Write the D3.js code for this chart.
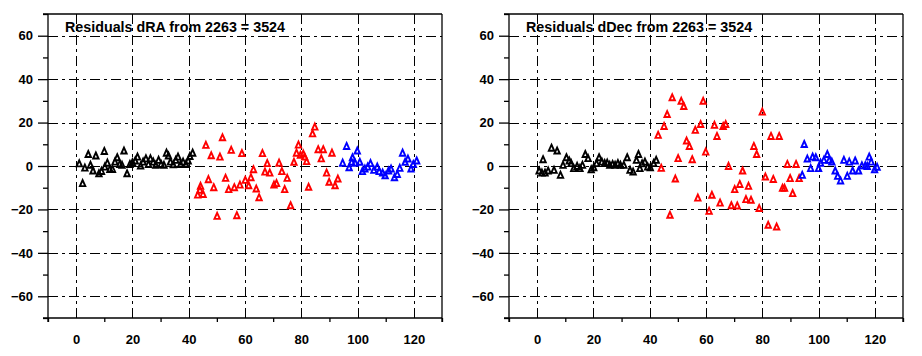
<!DOCTYPE html>
<html><head><meta charset="utf-8">
<script src="https://cdn.jsdelivr.net/npm/d3@7"></script>
<style>body{margin:0;background:#fff}svg{display:block}</style>
</head><body><svg id="c" width="922" height="356"></svg>
<script>
// ---- data ----
const xTicks = [0, 20, 40, 60, 80, 100, 120];
const yTicks = [-60, -40, -20, 0, 20, 40, 60];
const titles = ["Residuals dRA from 2263 = 3524", "Residuals dDec from 2263 = 3524"];

const raBlackX = [1.1,2.3,3.1,4.3,5.1,6.0,7.0,8.1,9.0,10.0,10.2,11.1,12.0,12.9,13.8,14.6,15.5,16.3,17.0,18.1,19.1,20.0,21.0,21.8,22.9,23.8,24.8,25.7,26.4,27.4,28.3,29.3,30.2,31.2,32.1,32.8,33.5,34.5,35.4,36.2,37.1,38.0,39.0,39.8,40.4,41.4];
const raBlackY = [1.0,-8.1,-1.0,5.3,0.3,-2.3,4.6,-3.6,-2.5,6.7,-0.5,1.3,-1.6,-1.6,1.8,3.8,0.7,0.3,6.9,-3.6,0.7,1.5,2.3,4.1,0.0,1.8,3.3,0.7,3.3,1.8,0.3,2.6,0.7,0.3,5.9,4.6,1.8,0.6,2.6,4.1,0.7,1.8,0.7,2.3,4.4,5.9];
const raRedX = [43.2,44.0,44.2,45.1,46.1,47.0,48.0,48.9,50.1,51.1,52.0,53.1,54.2,55.1,56.2,57.1,58.2,58.9,60.1,61.3,62.1,63.0,64.0,65.0,66.2,67.1,67.9,68.8,70.3,71.2,72.1,73.1,74.1,75.0,76.2,77.4,78.3,79.0,79.7,80.7,81.2,81.9,82.6,84.0,84.8,86.0,87.1,87.8,89.0,89.9,90.9,92.0,93.0];
const raRedY = [-13.4,-11.2,-9.4,-13.1,9.5,-6.3,4.7,-10.0,-23.2,4.1,13.0,-5.7,-10.9,7.2,-10.0,-22.9,-8.8,5.7,-6.6,-9.1,-5.4,-1.7,-10.6,-14.6,5.7,-2.8,1.1,-3.3,-8.8,-8.1,1.3,-2.6,-10.9,-5.7,-18.3,1.7,5.9,9.6,4.9,5.5,4.1,2.0,-9.8,14.8,17.9,7.5,3.3,7.5,-3.3,-7.5,5.9,-9.1,-6.0];
const raBlueX = [94.7,96.1,97.0,97.9,98.2,99.1,99.9,100.8,101.7,102.6,103.6,104.6,105.8,107.0,107.7,108.9,109.8,111.0,111.9,113.1,114.1,115.0,116.0,116.9,117.9,119.0,119.8,121.0];
const raBlueY = [1.3,9.0,-0.8,1.7,3.8,1.3,6.9,1.7,-2.6,-1.4,-0.5,1.1,-2.0,-0.5,-2.6,-3.3,-4.5,-2.3,-1.4,-5.4,-3.9,-1.1,5.9,1.7,3.2,-1.4,0.7,2.3];

const decBlackX = [0.7,1.7,2.1,2.8,3.9,5.1,6.0,7.1,8.3,9.2,10.4,11.4,12.1,13.0,14.2,15.2,16.1,17.1,18.1,19.2,20.1,21.1,22.0,23.0,24.0,24.9,25.8,26.8,27.7,28.7,29.6,30.8,32.0,33.0,34.1,35.3,36.0,36.5,37.3,38.3,39.3,40.2,41.4,42.3];
const decBlackY = [-2.3,-3.3,2.9,-3.3,-2.3,8.2,-2.0,6.9,-4.3,0.3,3.8,2.3,1.1,-1.2,-0.2,-1.2,0.3,5.3,3.4,-1.7,-0.8,1.1,3.8,1.8,1.1,1.3,0.3,0.7,0.3,1.1,0.3,0.3,3.8,-2.0,-2.8,2.6,5.3,-1.2,1.0,1.8,-0.5,-0.8,1.1,2.6];
const decRedX = [43.0,44.1,45.1,46.2,47.2,48.0,49.1,50.1,51.2,52.1,53.1,54.1,55.1,56.2,57.1,58.1,59.0,59.9,61.1,62.1,63.0,63.9,65.0,66.1,67.0,68.0,69.0,70.2,71.1,72.0,73.0,74.2,75.1,76.0,77.0,78.0,78.9,80.0,81.1,82.1,83.1,83.9,85.1,86.0,87.2,87.9,88.9,89.9,90.8,92.0,93.1];
const decRedY = [14.1,-1.1,18.2,23.7,-22.7,31.4,-6.0,3.4,29.8,27.4,11.5,9.0,2.9,16.4,-14.8,19.1,29.8,6.4,-20.9,-13.5,18.7,13.6,-17.1,18.2,19.1,-0.2,-18.3,-10.9,-18.4,-8.5,-2.3,-15.5,-9.4,-15.8,9.0,5.3,-19.6,24.8,-5.1,-27.3,13.6,-6.2,-28.1,13.6,-10.3,-10.3,0.7,-5.8,-12.7,0.7,-5.8];
const decBlueX = [94.2,94.9,96.0,97.2,97.9,99.0,100.0,100.7,101.9,103.1,103.8,104.7,105.9,106.8,107.8,109.0,110.2,110.9,112.1,113.0,114.2,115.4,116.6,117.3,118.0,118.7,119.9,120.8];
const decBlueY = [-4.3,9.9,3.2,-1.2,4.1,3.8,-1.2,1.3,2.6,5.3,2.6,1.8,-2.3,-4.8,-6.9,2.6,-4.8,1.8,-2.3,2.3,-2.3,0.1,0.1,-0.2,4.1,1.8,-1.7,-0.6];

const panels = [
  { title: titles[0], series: [
      { x: raBlackX, y: raBlackY, color: "#000000" },
      { x: raRedX, y: raRedY, color: "#ff0000" },
      { x: raBlueX, y: raBlueY, color: "#0000ff" }] },
  { title: titles[1], series: [
      { x: decBlackX, y: decBlackY, color: "#000000" },
      { x: decRedX, y: decRedY, color: "#ff0000" },
      { x: decBlueX, y: decBlueY, color: "#0000ff" }] }
];

// ---- drawing ----
const svg = d3.select("#c");
svg.append("rect").attr("width", 922).attr("height", 356).attr("fill", "#fff");
const font = "'Liberation Sans', Arial, sans-serif";
const plotLeft = [48, 509];
const plotW = 394;
const yScale = d3.scaleLinear().domain([-70, 70]).range([318, 14]);
const tri = "M0,-3.5L2.7,2.5L-2.7,2.5Z";

panels.forEach((p, i) => {
  const g = svg.append("g");
  const x = d3.scaleLinear().domain([-10, 130]).range([plotLeft[i], plotLeft[i] + plotW]);
  const x0 = x(-10), x1 = x(130), y0 = yScale(-70), y1 = yScale(70);

  // title
  g.append("text").attr("x", x0 + 17).attr("y", 32)
    .attr("font-family", font).attr("font-weight", "bold").attr("font-size", 14.3)
    .attr("fill", "#000").text(p.title);

  // grid
  const grid = g.append("g").attr("stroke", "#000").attr("stroke-width", 1)
    .attr("stroke-dasharray", "10,4,3,4").attr("shape-rendering", "crispEdges");
  grid.selectAll("line.v").data(xTicks).join("line").attr("class", "v")
    .attr("x1", d => Math.round(x(d)) + 0.5).attr("x2", d => Math.round(x(d)) + 0.5)
    .attr("y1", y1).attr("y2", y0);
  grid.selectAll("line.h").data(yTicks).join("line").attr("class", "h")
    .attr("y1", d => Math.round(yScale(d)) + 0.5).attr("y2", d => Math.round(yScale(d)) + 0.5)
    .attr("x1", x0).attr("x2", x1);

  // frame
  const fr = g.append("g").attr("stroke", "#000").attr("stroke-width", 1.3).attr("fill", "none");
  fr.append("line").attr("x1", x1).attr("x2", x1).attr("y1", y1).attr("y2", y0 + 4);
  fr.append("line").attr("x1", x0 - 5).attr("x2", x1).attr("y1", y1).attr("y2", y1);

  // axes
  const yAxis = d3.axisLeft(yScale).tickValues(yTicks).tickSize(10).tickPadding(5).tickFormat(d3.format("d"));
  const yMinor = d3.axisLeft(yScale).tickValues([-70, -50, -30, -10, 10, 30, 50, 70]).tickSize(5).tickFormat("");
  const ya = g.append("g").attr("transform", `translate(${x0},0)`).call(yAxis);
  g.append("g").attr("transform", `translate(${x0},0)`).call(yMinor).select(".domain").remove();
  const xMinor = d3.axisBottom(x).tickValues([-10, 10, 30, 50, 70, 90, 110, 130]).tickSize(4).tickFormat("");
  const xAxis = d3.axisBottom(x).tickValues(xTicks).tickSize(0).tickPadding(17).tickFormat(d3.format("d"));
  const xa = g.append("g").attr("transform", `translate(0,${y0})`).call(xAxis);
  g.append("g").attr("transform", `translate(0,${y0})`).call(xMinor).select(".domain").remove();
  ya.select(".domain").attr("d", `M0,${y1}V${y0 + 4}`);
  xa.select(".domain").attr("d", `M${x0 - 5},0H${x1}`);
  g.selectAll(".domain, .tick line").attr("stroke", "#000").attr("stroke-width", 1.3);
  g.selectAll(".tick text").attr("font-family", font).attr("font-weight", "bold")
    .attr("font-size", 13).attr("fill", "#000");

  // points
  p.series.forEach(s => {
    g.append("g").selectAll("path").data(s.x.map((v, k) => [v, s.y[k]])).join("path")
      .attr("d", tri)
      .attr("transform", d => `translate(${x(d[0])},${yScale(d[1])})`)
      .attr("fill", "none").attr("stroke", s.color).attr("stroke-width", 1.9);
  });
});
</script></body></html>
